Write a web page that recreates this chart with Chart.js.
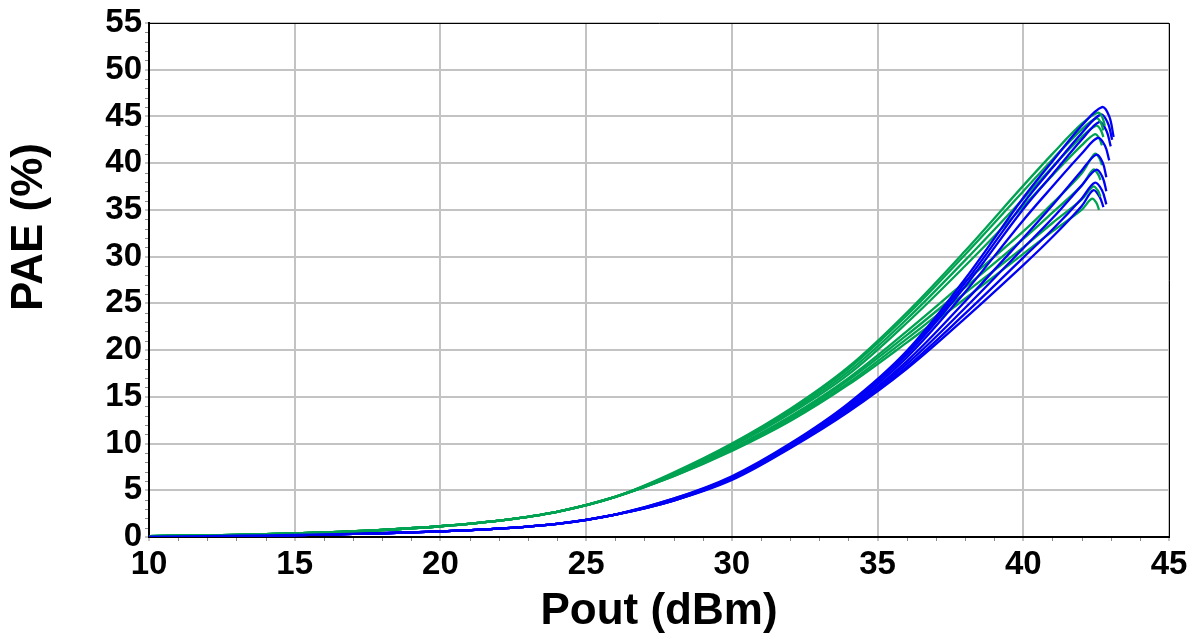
<!DOCTYPE html>
<html>
<head>
<meta charset="utf-8">
<script src="https://cdn.jsdelivr.net/npm/chart.js@4.4.1/dist/chart.umd.min.js"></script>
<style>
  html, body { margin: 0; padding: 0; background: #ffffff; }
  #wrap { width: 1198px; height: 636px; }
</style>
</head>
<body>
<div id="wrap"><canvas id="c" width="1198" height="636"></canvas></div>
<script>
// ---- data ----
const xTitle = 'Pout (dBm)';
const yTitle = 'PAE (%)';
const poutBase = [10, 12, 14, 16, 18, 20, 22, 24, 26, 28, 30, 32, 34, 36, 38, 40, 41, 42];

const blueY = [
  [0.05, 0.10, 0.17, 0.27, 0.40, 0.60, 0.90, 1.40, 2.4, 4.1, 6.5, 10.0, 14.3, 19.9, 27.6, 36.3, 40.2, 44.0],
  [0.05, 0.10, 0.17, 0.27, 0.40, 0.60, 0.90, 1.40, 2.4, 4.1, 6.4, 9.9, 14.2, 19.7, 27.2, 35.7, 39.5, 43.2],
  [0.05, 0.10, 0.17, 0.27, 0.40, 0.60, 0.90, 1.40, 2.4, 4.0, 6.4, 9.9, 14.1, 19.5, 26.8, 35.1, 38.8, 42.5],
  [0.05, 0.10, 0.17, 0.27, 0.40, 0.60, 0.90, 1.40, 2.4, 4.0, 6.3, 9.8, 13.9, 19.2, 26.2, 33.9, 37.5, 41.0],
  [0.05, 0.10, 0.17, 0.27, 0.40, 0.60, 0.90, 1.40, 2.4, 4.0, 6.3, 9.7, 13.7, 18.8, 25.2, 32.0, 35.5, 39.2],
  [0.05, 0.10, 0.17, 0.27, 0.40, 0.60, 0.90, 1.40, 2.4, 3.9, 6.2, 9.7, 13.6, 18.5, 24.5, 30.9, 34.1, 37.6],
  [0.05, 0.10, 0.17, 0.27, 0.40, 0.60, 0.90, 1.40, 2.4, 3.9, 6.2, 9.6, 13.5, 18.2, 23.9, 29.9, 32.9, 36.2],
  [0.05, 0.10, 0.17, 0.27, 0.40, 0.60, 0.90, 1.40, 2.4, 3.9, 6.1, 9.5, 13.4, 18.0, 23.4, 29.1, 32.1, 35.4]
];
const blueTailX = [
  [42.70, 42.95, 43.10], [42.65, 42.90, 43.05], [42.60, 42.85, 43.00], [42.55, 42.80, 42.95],
  [42.50, 42.72, 42.85], [42.50, 42.72, 42.85], [42.45, 42.70, 42.85], [42.40, 42.62, 42.75]
];
const blueTailY = [
  [46.0, 45.0, 42.8], [45.2, 44.3, 42.5], [44.4, 43.5, 41.8], [42.7, 41.9, 40.3],
  [40.9, 40.1, 38.5], [39.3, 38.5, 37.0], [37.9, 37.1, 35.6], [37.1, 36.4, 35.3]
];

const greenY = [
  [0.10, 0.18, 0.30, 0.48, 0.75, 1.15, 1.75, 2.7, 4.3, 6.9, 10.0, 13.7, 18.2, 24.0, 30.6, 37.6, 41.0, 44.2],
  [0.10, 0.18, 0.30, 0.48, 0.75, 1.15, 1.75, 2.7, 4.3, 6.8, 9.9, 13.6, 18.0, 23.7, 30.2, 37.0, 40.4, 43.6],
  [0.10, 0.18, 0.30, 0.48, 0.75, 1.15, 1.75, 2.7, 4.3, 6.8, 9.8, 13.4, 17.7, 23.3, 29.6, 36.2, 39.6, 42.8],
  [0.10, 0.18, 0.30, 0.48, 0.75, 1.15, 1.75, 2.7, 4.3, 6.7, 9.7, 13.2, 17.4, 22.9, 29.0, 35.4, 38.7, 41.9],
  [0.10, 0.18, 0.30, 0.48, 0.75, 1.15, 1.75, 2.7, 4.3, 6.6, 9.5, 12.9, 17.0, 22.0, 27.3, 32.7, 35.7, 38.9],
  [0.10, 0.18, 0.30, 0.48, 0.75, 1.15, 1.75, 2.7, 4.3, 6.6, 9.4, 12.7, 16.8, 21.6, 26.7, 31.9, 34.7, 37.6],
  [0.10, 0.18, 0.30, 0.48, 0.75, 1.15, 1.75, 2.7, 4.3, 6.5, 9.3, 12.5, 16.5, 21.2, 26.1, 31.0, 33.6, 36.1],
  [0.10, 0.18, 0.30, 0.48, 0.75, 1.15, 1.75, 2.7, 4.3, 6.5, 9.2, 12.4, 16.3, 20.8, 25.5, 30.3, 32.7, 35.0]
];
const greenTailX = [
  [42.55, 42.70, 42.80], [42.50, 42.65, 42.75], [42.50, 42.65, 42.75], [42.45, 42.60, 42.70],
  [42.45, 42.60, 42.70], [42.40, 42.55, 42.65], [42.40, 42.55, 42.65], [42.35, 42.50, 42.60]
];
const greenTailY = [
  [45.4, 45.0, 44.0], [44.8, 44.4, 43.5], [44.0, 43.6, 42.8], [43.1, 42.7, 41.9],
  [41.0, 40.6, 39.8], [39.3, 38.9, 38.2], [37.5, 37.1, 36.4], [36.2, 35.8, 35.0]
];

const xMin = 10, xMax = 45, xStep = 5;
const yMin = 0, yMax = 55, yStep = 5;

// ---- build datasets ----
const BLUE = '#0000f5';
const GREEN = '#00a352';
function curve(ys, tx, ty) {
  const pts = poutBase.map((x, i) => ({ x: x, y: ys[i] }));
  tx.forEach((x, i) => pts.push({ x: x, y: ty[i] }));
  return pts;
}
const datasets = [];
for (let i = 0; i < 8; i++) {
  datasets.push({ label: 'B' + (i + 1), data: curve(blueY[i], blueTailX[i], blueTailY[i]), borderColor: BLUE });
  datasets.push({ label: 'G' + (i + 1), data: curve(greenY[i], greenTailX[i], greenTailY[i]), borderColor: GREEN });
}
datasets.forEach(d => Object.assign(d, {
  showLine: true, pointRadius: 0, borderWidth: 2.3, fill: false, tension: 0.35
}));

const FONT = "'Liberation Sans', Arial, sans-serif";

const extras = {
  id: 'extras',
  afterDraw(chart) {
    const ctx = chart.ctx;
    const a = chart.chartArea;
    const xs = chart.scales.x, ys = chart.scales.y;
    ctx.save();
    // frame top/right
    ctx.strokeStyle = '#000';
    ctx.lineWidth = 1;
    ctx.beginPath();
    ctx.moveTo(a.left, a.top + 0.5); ctx.lineTo(a.right + 0.5, a.top + 0.5); ctx.lineTo(a.right + 0.5, a.bottom);
    ctx.stroke();
    // minor ticks
    ctx.strokeStyle = '#8a8a8a';
    ctx.lineWidth = 1;
    ctx.beginPath();
    for (let v = xMin + 1; v < xMax; v++) {
      if (v % xStep === 0) continue;
      const px = Math.round(xs.getPixelForValue(v)) + 0.5;
      ctx.moveTo(px, a.bottom + 1); ctx.lineTo(px, a.bottom + 4);
    }
    for (let v = yMin + 1; v < yMax; v++) {
      if (v % yStep === 0) continue;
      const py = Math.round(ys.getPixelForValue(v)) + 0.5;
      ctx.moveTo(a.left - 1, py); ctx.lineTo(a.left - 4, py);
    }
    ctx.stroke();
    // y axis title
    ctx.translate(30, 227);
    ctx.rotate(-Math.PI / 2);
    ctx.fillStyle = '#000';
    ctx.font = 'bold 44px ' + FONT;
    ctx.textAlign = 'center';
    ctx.textBaseline = 'middle';
    ctx.fillText(yTitle, 0, 0);
    ctx.restore();
  }
};

new Chart(document.getElementById('c'), {
  type: 'scatter',
  data: { datasets: datasets },
  options: {
    responsive: false,
    animation: false,
    devicePixelRatio: 1,
    layout: { padding: { left: 0, right: 29, top: 23, bottom: 0 } },
    plugins: { legend: { display: false }, tooltip: { enabled: false } },
    scales: {
      x: {
        type: 'linear', min: xMin, max: xMax,
        afterFit(s) { s.height = 99; },
        ticks: { stepSize: xStep, color: '#000', padding: 4, font: { family: FONT, size: 33, weight: 'bold' } },
        grid: { color: '#c3c3c3', lineWidth: 2, drawTicks: true, tickLength: 4, tickColor: '#8a8a8a', tickWidth: 1 },
        border: { color: '#000', width: 2 },
        title: { display: true, text: xTitle, color: '#000', padding: { top: 0, bottom: 0 },
                 font: { family: FONT, size: 44, weight: 'bold', lineHeight: 1.1 } }
      },
      y: {
        type: 'linear', min: yMin, max: yMax,
        afterFit(s) { s.width = 149; },
        ticks: { stepSize: yStep, color: '#000', padding: 3, font: { family: FONT, size: 33, weight: 'bold' } },
        grid: { color: '#c3c3c3', lineWidth: 2, drawTicks: true, tickLength: 4, tickColor: '#8a8a8a', tickWidth: 1 },
        border: { color: '#000', width: 2 },
        title: { display: false }
      }
    }
  },
  plugins: [extras]
});
</script>
</body>
</html>
